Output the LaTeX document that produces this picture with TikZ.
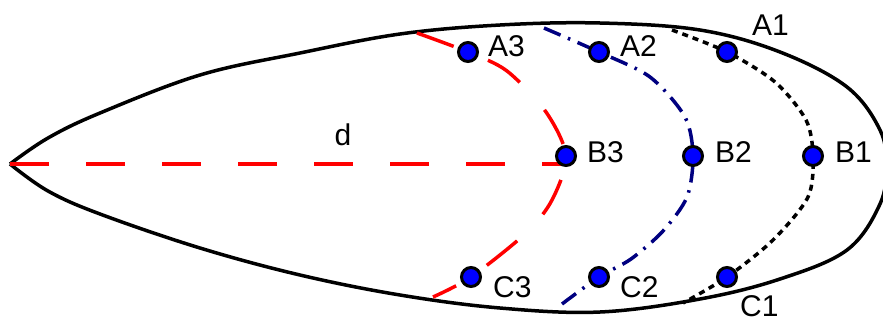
\documentclass[tikz,border=0pt]{standalone}
\usepackage{fontspec}
\setmainfont{Liberation Sans}
\usetikzlibrary{backgrounds}
\definecolor{arcred}{HTML}{FF0000}
\definecolor{arcnavy}{HTML}{000080}
\definecolor{dotblue}{HTML}{0000FF}

\begin{document}
\begin{tikzpicture}[
    x=1pt, y=-1pt,
    every node/.style={font=\fontsize{30}{32}\selectfont},
    probe/.style={circle, draw=black, fill=dotblue, line width=3pt,
                  minimum size=19pt, inner sep=0pt},
    lbl/.style={anchor=west, inner sep=0pt},
    hull/.style={draw=black, line width=3.5pt},
    farc/.style={draw=arcred, line width=3.5pt, dash pattern=on 39pt off 37pt},
    marc/.style={draw=arcnavy, line width=3.5pt,
                 dash pattern=on 18pt off 8pt on 2.5pt off 8pt},
    narc/.style={draw=black, line width=3.5pt, dash pattern=on 6pt off 5pt}
]
    \useasboundingbox (0,0) rectangle (883,322);

    % Measurement points
    \node[probe] (A3) at (468,52)  {};
    \node[probe] (B3) at (566,156) {};
    \node[probe] (C3) at (471,277) {};
    \node[probe] (A2) at (599,52)  {};
    \node[probe] (B2) at (693,156) {};
    \node[probe] (C2) at (599,277) {};
    \node[probe] (A1) at (727,52)  {};
    \node[probe] (B1) at (813,156) {};
    \node[probe] (C1) at (727,277) {};

    \node[lbl] (lA3) at (488,46)  {A3};
    \node[lbl] (lB3) at (587,152) {B3};
    \node[lbl] (lC3) at (493,287) {C3};
    \node[lbl] (lA2) at (620,46)  {A2};
    \node[lbl] (lB2) at (715,152) {B2};
    \node[lbl] (lC2) at (620,287) {C2};
    \node[lbl] (lA1) at (752,25)  {A1};
    \node[lbl] (lB1) at (835,152) {B1};
    \node[lbl] (lC1) at (740,306) {C1};

    \node (d) at (343,135) {d};

    % Outline and the three fronts, behind the points
    \begin{scope}[on background layer]
        \coordinate (tip) at (10,164);
        \draw[hull] plot[smooth, tension=0.6] coordinates {
            (tip) (48,138) (100,113) (200,75) (300,53) (400,34) (500,25)
            (600,23) (700,30) (780,52) (847,87) (880,130) (886,166)
            (880,204) (847,250) (780,279) (700,299) (600,312) (500,308)
            (400,295) (300,275) (200,248) (100,214) (48,191) (tip)};

        \coordinate (f3top) at (417,33);
        \coordinate (f3bot) at (433,297);
        \draw[farc] plot[smooth] coordinates {
            (f3top) (A3.center) (507,71) (546,112) (B3.center) (552,200)
            (526,233) (C3.center) (f3bot)};

        \coordinate (f2top) at (544,28);
        \coordinate (f2bot) at (562,304);
        \draw[marc] plot[smooth] coordinates {
            (f2top) (A2.center) (650,77) (685,117) (B2.center) (687,197)
            (663,231) (631,259) (C2.center) (f2bot)};

        \coordinate (f1top) at (672,30);
        \coordinate (f1bot) at (683,303);
        \draw[narc] plot[smooth] coordinates {
            (f1top) (A1.center) (775,82) (806,120) (B1.center) (808,197)
            (773,240) (C1.center) (f1bot)};

        % Distance to the nose
        \draw[farc] (tip) -- (tip -| B3);
    \end{scope}
\end{tikzpicture}
\end{document}
